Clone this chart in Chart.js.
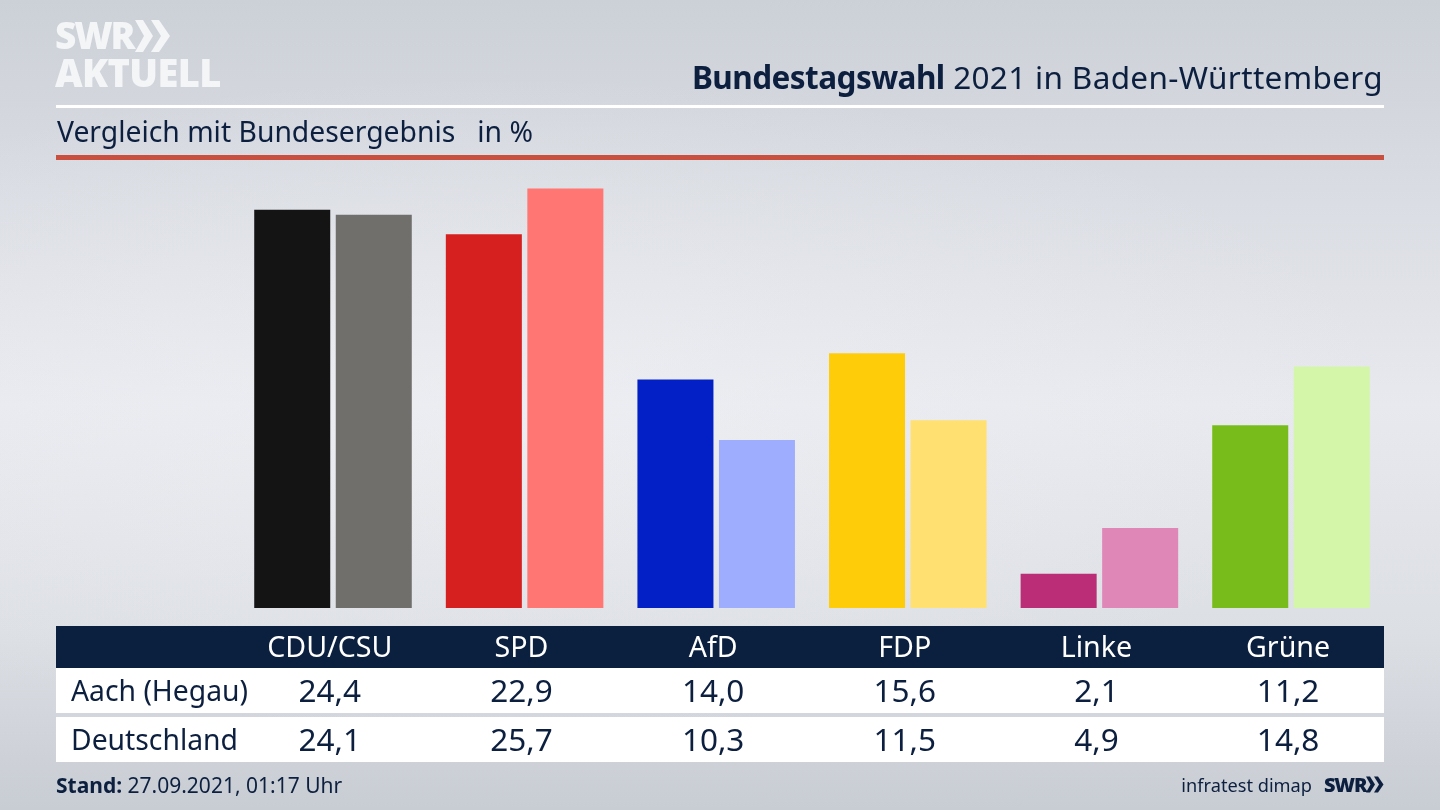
<!DOCTYPE html>
<html lang="de">
<head>
<meta charset="utf-8">
<title>Bundestagswahl 2021 in Baden-Württemberg</title>
<script src="https://cdn.jsdelivr.net/npm/chart.js@4"></script>
<style>
  html, body { margin: 0; padding: 0; }
  body {
    width: 1440px; height: 810px; overflow: hidden; position: relative;
    font-family: "Noto Sans", sans-serif; color: #0c1f3f;
    background:
      radial-gradient(ellipse 900px 330px at 35% 50%, rgba(240,241,245,.55), rgba(240,241,245,0)),
      linear-gradient(180deg, #ccd0d7 0%, #dadde3 25%, #e8e9ee 50%, #dcdfe4 78%, #c8ccd3 100%);
  }
  #grafico { position: absolute; left: 0; top: 0; }
  .abs { position: absolute; white-space: nowrap; }
  #logo1 { left: 55px; top: 11px; font: 800 37px/48px "Open Sans", sans-serif; color: #f4f5f7; letter-spacing: -2.2px; }
  #logo2 { left: 55px; top: 47px; font: 800 38px/50px "Open Sans", sans-serif; color: #f4f5f7; letter-spacing: -0.6px; }
  #titulo { right: 57px; top: 55px; font-size: 31.5px; line-height: 44px; letter-spacing: 0.33px; }
  #titulo b { color: #0c1f3f; letter-spacing: -0.55px; }
  #linea1 { left: 56px; top: 105px; width: 1328px; height: 3px; background: #fff; }
  #subtitulo { left: 57px; top: 111px; font-size: 28.3px; line-height: 40px; white-space: pre; }
  #linea2 { left: 56px; top: 155px; width: 1328px; height: 5px; background: #c9503f; }
  #tabla { left: 56px; top: 626px; width: 1328px; }
  .fila { display: flex; height: 45px; background: #fff; font-size: 31.5px; line-height: 44px; margin-bottom: 4px; }
  .fila.cabeza { height: 42px; line-height: 40px; margin-bottom: 0; background: #0b1f3f; color: #fff; font-size: 28.6px; }
  .fila .nombre { width: 178px; padding-left: 15px; box-sizing: border-box; font-size: 28.3px; }
  .fila .celda { width: 191.67px; text-align: center; }
  #stand { left: 56px; top: 770px; font-size: 21px; line-height: 30px; }
  #fuente { right: 128px; top: 770px; font-size: 18.2px; line-height: 30px; }
  #swr { left: 1324px; top: 770px; font: 800 20px/30px "Open Sans", sans-serif; letter-spacing: -1.2px; }
</style>
</head>
<body>
<canvas id="grafico" width="1440" height="810"></canvas>

<div class="abs" id="logo1">SWR</div>
<svg class="abs" style="left:135px;top:20px" width="36" height="32" viewBox="0 0 36 32">
  <polygon points="0,0 8,0 18,16 8,32 0,32 9,16" fill="#f4f5f7"/>
  <polygon points="16,0 24,0 35,16 24,32 16,32 26,16" fill="#f4f5f7"/>
</svg>
<div class="abs" id="logo2">AKTUELL</div>

<div class="abs" id="titulo"><b>Bundestagswahl</b> 2021 in Baden-Württemberg</div>
<div class="abs" id="linea1"></div>
<div class="abs" id="subtitulo">Vergleich mit Bundesergebnis   in %</div>
<div class="abs" id="linea2"></div>

<div class="abs" id="tabla"></div>

<div class="abs" id="stand"><b>Stand:</b> 27.09.2021, 01:17 Uhr</div>
<div class="abs" id="fuente">infratest dimap</div>
<div class="abs" id="swr">SWR</div>
<svg class="abs" style="left:1366px;top:776px" width="18" height="17" viewBox="0 0 36 32">
  <polygon points="0,0 8,0 18,16 8,32 0,32 9,16" fill="#0c1f3f"/>
  <polygon points="16,0 24,0 35,16 24,32 16,32 26,16" fill="#0c1f3f"/>
</svg>

<script>
const partidos = ["CDU/CSU", "SPD", "AfD", "FDP", "Linke", "Grüne"];
const aach = [24.4, 22.9, 14.0, 15.6, 2.1, 11.2];
const deutschland = [24.1, 25.7, 10.3, 11.5, 4.9, 14.8];
const coloresAach = ["#141414", "#d61f1f", "#0320c6", "#ffcc0a", "#bb2e77", "#78bc1b"];
const coloresDeutschland = ["#706f6c", "#ff7672", "#9fadff", "#ffe070", "#df88b7", "#d3f6a9"];

const formato = v => v.toFixed(1).replace(".", ",");

// tabla debajo del grafico
function fila(clase, nombre, celdas) {
  const cols = celdas.map(c => `<div class="celda">${c}</div>`).join("");
  return `<div class="fila ${clase}"><div class="nombre">${nombre}</div>${cols}</div>`;
}
document.getElementById("tabla").innerHTML =
  fila("cabeza", "", partidos) +
  fila("", "Aach (Hegau)", aach.map(formato)) +
  fila("", "Deutschland", deutschland.map(formato));

new Chart(document.getElementById("grafico"), {
  type: "bar",
  data: {
    labels: partidos,
    datasets: [
      { label: "Aach (Hegau)", data: aach, backgroundColor: coloresAach },
      { label: "Deutschland", data: deutschland, backgroundColor: coloresDeutschland }
    ]
  },
  options: {
    responsive: false,
    animation: false,
    layout: { padding: { left: 237.2, right: 53.2, top: 150, bottom: 202 } },
    categoryPercentage: 0.851,
    barPercentage: 0.9325,
    scales: {
      x: { display: false },
      y: { display: false, min: 0, max: 28.06 }
    },
    plugins: {
      legend: { display: false },
      tooltip: { enabled: false }
    }
  }
});
</script>
</body>
</html>
